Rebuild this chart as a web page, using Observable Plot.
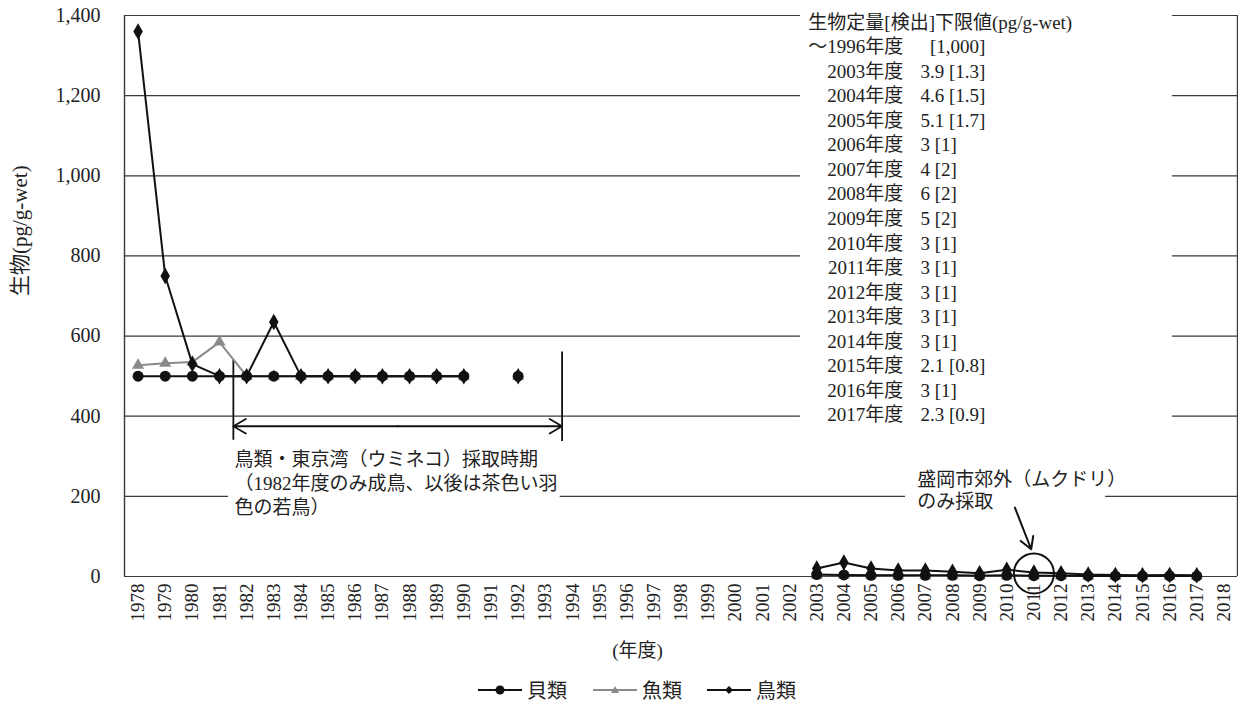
<!DOCTYPE html>
<html><head><meta charset="utf-8">
<script src="https://cdn.jsdelivr.net/npm/d3@7"></script>
<script src="https://cdn.jsdelivr.net/npm/@observablehq/plot@0.6"></script>
<style>
body{margin:0;background:#fff;}
#chart svg{display:block;}
#legend{position:relative;height:39px;font-family:"Noto Sans CJK JP",sans-serif;font-size:20px;}
.item{position:absolute;top:5px;display:flex;align-items:center;}
.item span{margin-left:5px;color:#222;}
</style></head>
<body>
<div id="chart"></div>
<div id="legend"></div>
<script>
// ---- data ----
const years = [1978,1979,1980,1981,1982,1983,1984,1985,1986,1987,1988,1989,1990,1991,1992,1993,1994,1995,1996,1997,1998,1999,2000,2001,2002,2003,2004,2005,2006,2007,2008,2009,2010,2011,2012,2013,2014,2015,2016,2017];
const shellfish = [500,500,500,500,500,500,500,500,500,500,500,500,500,null,500,null,null,null,null,null,null,null,null,null,null,5,4,3,3,3,3,2,3,2,2,1.5,1.5,1,1.5,1];
const fish      = [527,532,535,585,500,500,500,500,500,500,500,500,500,null,500,null,null,null,null,null,null,null,null,null,null,3,4,3,2,2,2,2,2,2,2,1,1,1,1,1];
const birds     = [1360,750,530,500,500,635,500,500,500,500,500,500,500,null,500,null,null,null,null,null,null,null,null,null,null,20,35,20,15,15,12,8,17,10,8,5,4,3,4,3];
const seriesNames = ["貝類","魚類","鳥類"];
const xTicks = [1978,1979,1980,1981,1982,1983,1984,1985,1986,1987,1988,1989,1990,1991,1992,1993,1994,1995,1996,1997,1998,1999,2000,2001,2002,2003,2004,2005,2006,2007,2008,2009,2010,2011,2012,2013,2014,2015,2016,2017,2018];
const yTicks = [0,200,400,600,800,1000,1200,1400];

const noteTitle = "生物定量[検出]下限値(pg/g-wet)";
const noteYears = ["～1996年度","2003年度","2004年度","2005年度","2006年度","2007年度","2008年度","2009年度","2010年度","2011年度","2012年度","2013年度","2014年度","2015年度","2016年度","2017年度"];
const noteValues = ["\u00a0\u00a0[1,000]","3.9 [1.3]","4.6 [1.5]","5.1 [1.7]","3 [1]","4 [2]","6 [2]","5 [2]","3 [1]","3 [1]","3 [1]","3 [1]","3 [1]","2.1 [0.8]","3 [1]","2.3 [0.9]"];
const bracketText = ["鳥類・東京湾（ウミネコ）採取時期","（1982年度のみ成鳥、以後は茶色い羽","色の若鳥）"];
const moriokaText = ["盛岡市郊外（ムクドリ）","のみ採取"];
const xLabel = "(年度)";
const yLabel = "生物(pg/g-wet)";

// ---- build tables ----
const rows = (vals) => years.map((y,i)=>({year:y, v:vals[i]}));
const sh = rows(shellfish), fi = rows(fish), bi = rows(birds);
const shD = sh.filter(d=>d.v!=null), fiD = fi.filter(d=>d.v!=null), biD = bi.filter(d=>d.v!=null);

// annotation layout (data coordinates)
const noteRowY = i => 1382.5 - 61.25*i;
const noteYearRows = noteYears.map((t,i)=>({t, y: noteRowY(i+1)}));
const noteValRows = noteValues.map((t,i)=>({t, y: noteRowY(i+1)}));
const boxes = [
  {x1:2002.4, x2:2016.1, y1:368, y2:1406},
  {x1:1981.33, x2:1993.55, y1:140, y2:335},
  {x1:2006.27, x2:2013.64, y1:160, y2:285}
];
const bracketLines = [{x:1981.51, y1:340, y2:540},{x:1993.62, y1:337, y2:560}];
const bracketRows = bracketText.map((t,i)=>({t, y: 290 - 60*i}));
const moriokaRows = moriokaText.map((t,i)=>({t, y: 240 - 55*i}));

const FONT = '"Liberation Serif","Noto Sans CJK JP",serif';
const CJK = '"Liberation Serif","Noto Sans CJK JP",sans-serif';
const gridColor = "#3a3a3a";
const fmt = d3.format(",");

const chart = Plot.plot({
  width: 1238, height: 670,
  marginLeft: 124, marginRight: 1, marginTop: 15, marginBottom: 94,
  style: {fontFamily: FONT, fontSize: "19px", color:"#222", background:"#fff", overflow:"visible"},
  x: {domain:[1977.5, 2018.5], axis: null},
  y: {domain:[0,1400], axis: null},
  marks: [
    Plot.ruleY(yTicks, {stroke: gridColor, strokeWidth: 1.2}),
    Plot.ruleX([1977.5, 2018.5], {y1: 0, y2: 1400, stroke: gridColor, strokeWidth: 1.4}),
    Plot.rect(boxes, {x1:"x1", x2:"x2", y1:"y1", y2:"y2", fill:"white"}),
    // axes as text marks
    Plot.text(yTicks, {y: d => d, frameAnchor: "left", dx: -24, textAnchor: "end", text: d => fmt(d), fontSize: 20, fontFamily: FONT, fill: "#222"}),
    Plot.text(xTicks, {x: d => d, frameAnchor: "bottom", dy: 7, rotate: -90, textAnchor: "end", lineAnchor: "middle", text: d => String(d), fontSize: 19, fontFamily: FONT, fill: "#222"}),
    Plot.text([yLabel], {frameAnchor: "left", dx: -104, rotate: -90, fontSize: 21, fontFamily: FONT, fill:"#222"}),
    Plot.text([xLabel], {x: [1996.4], frameAnchor: "bottom", dy: 80, fontSize: 19, fontFamily: FONT, fill:"#222"}),
    // bracket
    Plot.ruleX(bracketLines, {x: "x", y1: "y1", y2: "y2", stroke: "#111", strokeWidth: 1.8}),
    Plot.arrow([{a:1981.51,b:1993.62}], {x1: d=>(d.a+d.b)/2, x2: "a", y1: 375, y2: 375, stroke:"#111", strokeWidth:1.8, headLength: 12}),
    Plot.arrow([{a:1981.51,b:1993.62}], {x1: d=>(d.a+d.b)/2, x2: "b", y1: 375, y2: 375, stroke:"#111", strokeWidth:1.8, headLength: 12}),
    // series
    Plot.line(fi, {x:"year", y:"v", stroke:"#8a8a8a", strokeWidth: 2}),
    Plot.dot(fiD, {x:"year", y:"v", symbol:"triangle", fill:"#8a8a8a", r: 4.5}),
    Plot.line(sh, {x:"year", y:"v", stroke:"#111", strokeWidth: 2}),
    Plot.dot(shD, {x:"year", y:"v", fill:"#111", r: 5.5}),
    Plot.line(bi, {x:"year", y:"v", stroke:"#111", strokeWidth: 2}),
    Plot.dot(biD, {x:"year", y:"v", symbol:"diamond", fill:"#111", r: 5}),
    // Morioka annotation
    Plot.dot([{x:2011, y:7.5}], {x:"x", y:"y", r: 20, stroke:"#111", strokeWidth: 2, fill:"none"}),
    Plot.arrow([{x1:2010.3, y1:172, x2:2010.9, y2:68}], {x1:"x1", y1:"y1", x2:"x2", y2:"y2", stroke:"#111", strokeWidth: 2, headLength: 10}),
    // texts
    Plot.text(bracketRows, {x: 1981.55, y: "y", text: "t", textAnchor: "start", fontSize: 19, fontFamily: CJK, fill:"#222"}),
    Plot.text(moriokaRows, {x: 2006.7, y: "y", text: "t", textAnchor: "start", fontSize: 19, fontFamily: CJK, fill:"#222"}),
    Plot.text([noteTitle], {x: [2002.69], y: [noteRowY(0)], textAnchor: "start", fontSize: 19, fontFamily: CJK, fill:"#222"}),
    Plot.text(noteYearRows, {x: 2006.19, y: "y", text: "t", textAnchor: "end", fontSize: 19, fontFamily: CJK, fill:"#222"}),
    Plot.text(noteValRows, {x: 2006.82, y: "y", text: "t", textAnchor: "start", fontSize: 19, fontFamily: FONT, fill:"#222"})
  ]
});
document.getElementById("chart").appendChild(chart);

// legend
const legend = document.getElementById("legend");
const legendItems = [
  {name: seriesNames[0], left: 478, color: "#111", shape: "circle"},
  {name: seriesNames[1], left: 593, color: "#8a8a8a", shape: "triangle"},
  {name: seriesNames[2], left: 707, color: "#111", shape: "diamond"}
];
legendItems.forEach(it => {
  const div = document.createElement("div");
  div.className = "item";
  div.style.left = it.left + "px";
  let marker = "";
  if (it.shape === "circle") marker = `<circle cx="22" cy="10" r="4.5" fill="${it.color}"/>`;
  if (it.shape === "triangle") marker = `<path d="M22,6 L26,13 L18,13 Z" fill="${it.color}"/>`;
  if (it.shape === "diamond") marker = `<path d="M22,6 L26,10 L22,14 L18,10 Z" fill="${it.color}"/>`;
  div.innerHTML = `<svg width="44" height="20"><line x1="0" y1="10" x2="44" y2="10" stroke="${it.color}" stroke-width="2"/>${marker}</svg><span>${it.name}</span>`;
  legend.appendChild(div);
});
</script>
</body></html>
